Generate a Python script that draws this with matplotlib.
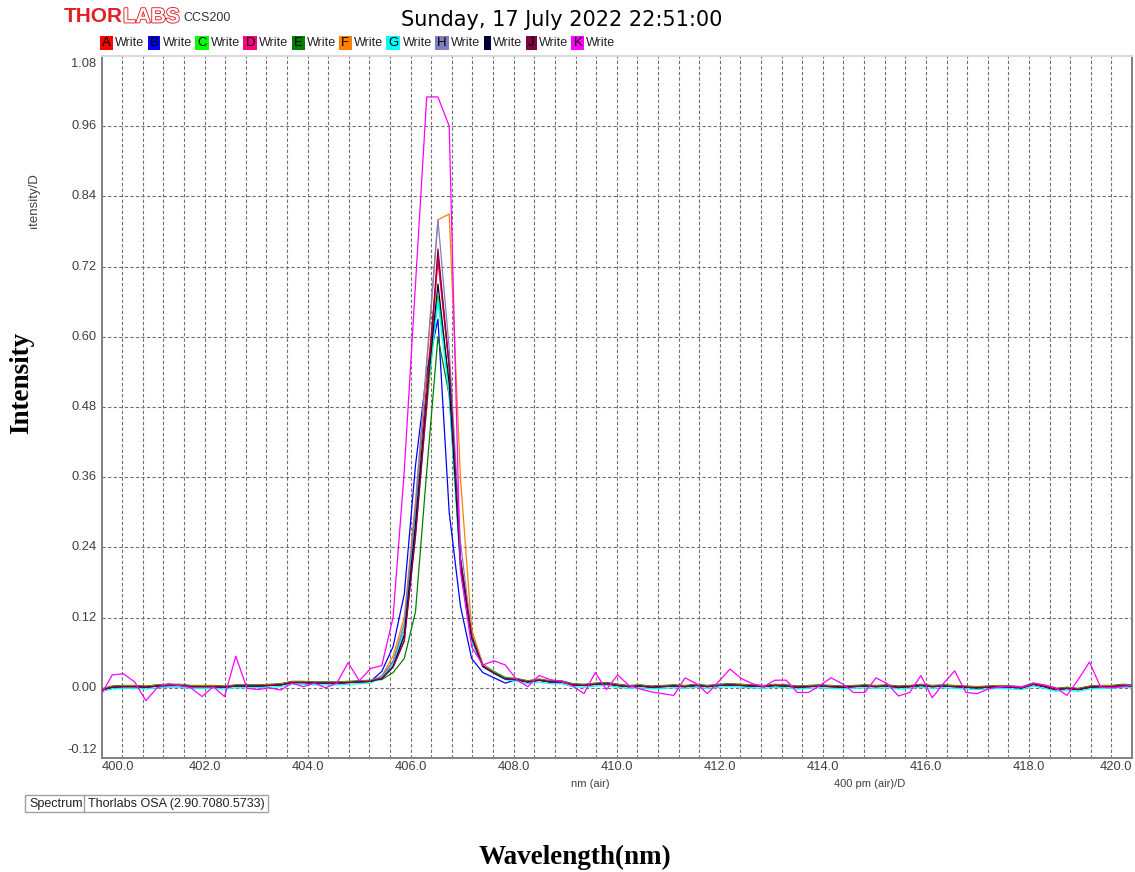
import numpy as np
import matplotlib
matplotlib.use("Agg")
import matplotlib.pyplot as plt
import matplotlib.patheffects as pe
from matplotlib.patches import Rectangle
from matplotlib.transforms import offset_copy, Bbox


# ── Data ─────────────────────────────────────────────────────────────────────
WL_START = 399.99      # nm, first detector pixel shown
WL_STEP  = 0.218       # nm per detector pixel
N_PIX    = 93

SERIES = ['A', 'B', 'C', 'D', 'E', 'F', 'G', 'H', 'I', 'J', 'K']
COLORS = ['#FF0000', '#0000FF', '#00FF00', '#FF0080', '#008000', '#FF8000',
          '#00FFFF', '#8080C0', '#000040', '#800040', '#FF00FF']

# common baseline of traces A..J (they overlap outside the peak)
BASELINE = [
    -0.004, 0.001, 0.002, 0.002, 0.001, 0.003, 0.004, 0.004, 0.002, 0.002,
    0.002, 0.001, 0.003, 0.003, 0.003, 0.004, 0.005, 0.009, 0.009, 0.008,
    0.008, 0.008, 0.009, 0.010, 0.011, 0.018, 0.040, 0.100, 0.300, 0.500,
    0.700, 0.500, 0.210, 0.085, 0.038, 0.026, 0.016, 0.014, 0.010, 0.013,
    0.010, 0.010, 0.005, 0.004, 0.006, 0.007, 0.004, 0.002, 0.003, 0.001,
    0.002, 0.003, 0.002, 0.004, 0.002, 0.004, 0.005, 0.004, 0.003, 0.002,
    0.004, 0.003, 0.001, 0.002, 0.003, 0.002, 0.001, 0.002, 0.003, 0.002,
    0.003, 0.001, 0.002, 0.004, 0.002, 0.003, 0.002, 0.001, 0.000, 0.001,
    0.002, 0.001, 0.000, 0.006, 0.002, -0.003, -0.001, -0.003, 0.001, 0.002,
    0.002, 0.004, 0.003,
]

# small constant offset of each trace from the common baseline
OFFSETS = [0.001, 0.000, 0.001, 0.001, 0.002, 0.001, -0.003, 0.000, 0.000, 0.000]

# peak samples (pixel index 25..36) of traces A..J
PEAK_START = 25
PEAK_A = [0.018, 0.045, 0.10, 0.30, 0.52, 0.73, 0.55, 0.22, 0.085, 0.038, 0.026, 0.016]
PEAK_B = [0.028, 0.070, 0.16, 0.38, 0.54, 0.63, 0.30, 0.14, 0.050, 0.026, 0.017, 0.008]
PEAK_C = [0.016, 0.038, 0.09, 0.27, 0.48, 0.67, 0.52, 0.21, 0.085, 0.040, 0.028, 0.018]
PEAK_D = [0.016, 0.036, 0.08, 0.26, 0.48, 0.74, 0.55, 0.22, 0.090, 0.038, 0.026, 0.016]
PEAK_E = [0.014, 0.026, 0.05, 0.13, 0.37, 0.60, 0.50, 0.22, 0.090, 0.040, 0.027, 0.017]
PEAK_F = [0.020, 0.054, 0.12, 0.32, 0.55, 0.80, 0.81, 0.36, 0.100, 0.040, 0.026, 0.016]
PEAK_G = [0.018, 0.040, 0.10, 0.29, 0.50, 0.66, 0.50, 0.20, 0.080, 0.036, 0.024, 0.014]
PEAK_H = [0.020, 0.045, 0.11, 0.31, 0.56, 0.80, 0.58, 0.25, 0.090, 0.038, 0.026, 0.016]
PEAK_I = [0.016, 0.036, 0.09, 0.28, 0.50, 0.69, 0.52, 0.21, 0.085, 0.036, 0.025, 0.015]
PEAK_J = [0.016, 0.035, 0.08, 0.26, 0.49, 0.75, 0.55, 0.22, 0.088, 0.037, 0.025, 0.015]
PEAKS = [PEAK_A, PEAK_B, PEAK_C, PEAK_D, PEAK_E, PEAK_F, PEAK_G, PEAK_H, PEAK_I, PEAK_J]

# trace K (magenta) is noisier and has the highest peak
TRACE_K = [
    -0.012, 0.022, 0.024, 0.010, -0.022, 0.000, 0.007, 0.004, 0.000, -0.015,
    0.002, -0.015, 0.054, -0.001, -0.003, 0.000, -0.004, 0.008, 0.002, 0.008,
    0.000, 0.008, 0.043, 0.012, 0.033, 0.038, 0.120, 0.370, 0.690, 1.010,
    1.010, 0.960, 0.200, 0.070, 0.039, 0.046, 0.039, 0.014, 0.002, 0.021,
    0.014, 0.011, 0.003, -0.010, 0.026, -0.003, 0.022, 0.004, -0.002, -0.007,
    -0.010, -0.013, 0.017, 0.007, -0.010, 0.011, 0.032, 0.016, 0.007, 0.002,
    0.013, 0.013, -0.008, -0.008, 0.004, 0.017, 0.007, -0.008, -0.008, 0.017,
    0.007, -0.014, -0.008, 0.021, -0.017, 0.007, 0.029, -0.008, -0.010, -0.002,
    0.002, 0.003, 0.001, 0.008, 0.005, 0.000, -0.013, 0.014, 0.044, 0.001,
    0.000, 0.002, 0.005,
]

YTICKS = [-0.12, 0.00, 0.12, 0.24, 0.36, 0.48, 0.60, 0.72, 0.84, 0.96, 1.08]
XTICKS = [400.0, 402.0, 404.0, 406.0, 408.0, 410.0, 412.0, 414.0, 416.0, 418.0, 420.0]
GRID_STEP = 0.4   # nm per division ("400 pm (air)/D")

TITLE = 'Sunday, 17 July 2022 22:51:00'


# ── Figure ───────────────────────────────────────────────────────────────────
W, H = 1135, 872
fig = plt.figure(figsize=(W / 100, H / 100), dpi=100)
fig.patch.set_facecolor('white')
SANS = 'Liberation Sans'
SERIF = 'Liberation Serif'
TXT = '#404040'


def fx(x):
    return x / W


def fy(y):
    return 1 - y / H


ax = fig.add_axes([fx(101.5), fy(758), (1132 - 101.5) / W, (758 - 56) / H])

wl = WL_START + WL_STEP * np.arange(N_PIX)
base = np.array(BASELINE)
for name, col, off, peak in zip(SERIES[:-1], COLORS[:-1], OFFSETS, PEAKS):
    y = base + off
    y[PEAK_START:PEAK_START + len(peak)] = peak
    ax.plot(wl, y, color=col, lw=0.9, zorder=3)
ax.plot(wl, TRACE_K, color=COLORS[-1], lw=0.9, zorder=4)

ax.set_xlim(XTICKS[0], XTICKS[-1])
ax.set_ylim(YTICKS[0], YTICKS[-1])
ax.set_xticks(np.arange(XTICKS[0] + GRID_STEP, XTICKS[-1] - 0.01, GRID_STEP))
ax.set_yticks(YTICKS[1:-1])
ax.tick_params(length=0, labelbottom=False, labelleft=False)
ax.grid(True, color='#707070', linestyle=(0, (3, 2)), linewidth=0.8, zorder=1)

for side in ['left', 'bottom', 'right']:
    ax.spines[side].set_color('#808080')
    ax.spines[side].set_linewidth(1.4)
ax.spines['top'].set_color('#d8d8d8')
ax.spines['top'].set_linewidth(1.4)

# y tick labels (first / last nudged inside like the instrument software)
ytr = ax.get_yaxis_transform()
for i, v in enumerate(YTICKS):
    dy = 0
    if i == 0:
        dy = 8
    elif i == len(YTICKS) - 1:
        dy = -8
    ax.text(0, v, f'{v:.2f}', transform=offset_copy(ytr, fig, x=-5, y=dy, units='dots'),
            ha='right', va='center', fontsize=9.3, color=TXT, family=SANS)

# x tick labels
xtr = ax.get_xaxis_transform()
for i, v in enumerate(XTICKS):
    ha = 'center'
    if i == 0:
        ha = 'left'
    elif i == len(XTICKS) - 1:
        ha = 'right'
    ax.text(v, 0, f'{v:.1f}', transform=offset_copy(xtr, fig, x=0, y=-9, units='dots'),
            ha=ha, va='center', fontsize=9.3, color=TXT, family=SANS)

fig.text(fx(590), fy(784), 'nm (air)', ha='center', va='center', fontsize=8, color=TXT, family=SANS)
fig.text(fx(870), fy(784), '400 pm (air)/D', ha='center', va='center', fontsize=8, color=TXT, family=SANS)

# instrument axis label, cut off at its start as in the screenshot
t = fig.text(fx(33.5), fy(235), 'Intensity/D', rotation=90, ha='center', va='bottom',
             fontsize=9.5, color=TXT, family=SANS)
t.set_clip_box(Bbox([[0, H - 229], [100, H]]))
t.set_clip_on(True)

# big axis labels
fig.text(fx(22), fy(383), 'Intensity', rotation=90, ha='center', va='center',
         fontsize=19.5, fontweight='bold', family=SERIF, color='black')
fig.text(fx(575), fy(857), 'Wavelength(nm)', ha='center', va='center',
         fontsize=19.5, fontweight='bold', family=SERIF, color='black')

# header: logo, model, time stamp
logo1 = fig.text(fx(64), fy(17), 'THOR', ha='left', va='center', fontsize=15,
                 fontweight='bold', family=SANS, color='#E31E24')
fig.canvas.draw()
r = fig.canvas.get_renderer()
bb = logo1.get_window_extent(renderer=r)
logo2 = fig.text(bb.x1 / W, fy(17), 'LABS', ha='left', va='center', fontsize=15,
                 fontweight='bold', family=SANS, color='white')
logo2.set_path_effects([pe.Stroke(linewidth=1.3, foreground='#E31E24'), pe.Normal()])
fig.text(fx(183), fy(18), 'CCS200', ha='left', va='center', fontsize=9,
         family=SANS, color='#333333')
fig.text(fx(562), fy(20), TITLE, ha='center', va='center', fontsize=15,
         family='DejaVu Sans', color='black')

# legend row: coloured letter box + "Write"
x = 100.0
for name, col in zip(SERIES, COLORS):
    lt = fig.text(0, 0, name, fontsize=9.5, family=SANS, color='black')
    w = lt.get_window_extent(renderer=r).width
    lt.remove()
    bw = w + 4
    fig.patches.append(Rectangle((fx(x), fy(50)), bw / W, 14 / H, transform=fig.transFigure,
                                 facecolor=col, edgecolor='none', figure=fig))
    fig.text(fx(x + bw / 2), fy(43), name, ha='center', va='center', fontsize=9.5,
             family=SANS, color='black')
    x += bw + 2
    wt = fig.text(fx(x), fy(43), 'Write', ha='left', va='center', fontsize=9,
                  family=SANS, color='#202020')
    x += wt.get_window_extent(renderer=r).width + 3.6

# status box under the plot
fig.patches.append(Rectangle((fx(25), fy(812)), 243 / W, 17 / H, transform=fig.transFigure,
                             facecolor='white', edgecolor='#a0a0a0', lw=1, figure=fig))
fig.lines.append(plt.Line2D([fx(84), fx(84)], [fy(812), fy(795)], transform=fig.transFigure,
                            color='#a0a0a0', lw=1))
fig.text(fx(29), fy(803.5), 'Spectrum', ha='left', va='center', fontsize=9, family=SANS, color='#202020')
fig.text(fx(88), fy(803.5), 'Thorlabs OSA (2.90.7080.5733)', ha='left', va='center',
         fontsize=9, family=SANS, color='#202020')

fig.savefig('out.png', dpi=100)
